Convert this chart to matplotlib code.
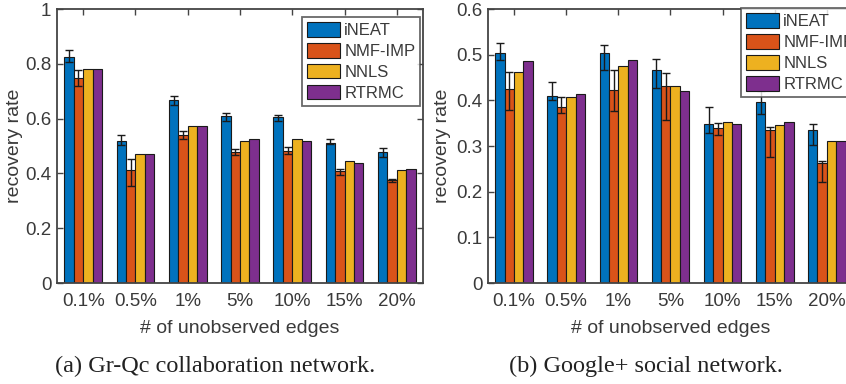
import numpy as np
import matplotlib
matplotlib.use('Agg')
import matplotlib.pyplot as plt

# x categories: fraction of unobserved edges
categories = ['0.1%', '0.5%', '1%', '5%', '10%', '15%', '20%']
methods = ['iNEAT', 'NMF-IMP', 'NNLS', 'RTRMC']
colors = ['#0072BD', '#D95319', '#EDB120', '#7E2F8E']

# (a) Gr-Qc collaboration network
grqc_ineat = [0.825, 0.520, 0.669, 0.611, 0.606, 0.512, 0.479]
grqc_ineat_hi = [0.850, 0.542, 0.683, 0.621, 0.615, 0.526, 0.492]
grqc_ineat_lo = [0.805, 0.505, 0.650, 0.591, 0.593, 0.507, 0.460]
grqc_nmf = [0.747, 0.413, 0.540, 0.477, 0.482, 0.407, 0.375]
grqc_nmf_hi = [0.777, 0.452, 0.555, 0.488, 0.497, 0.415, 0.381]
grqc_nmf_lo = [0.719, 0.354, 0.524, 0.469, 0.471, 0.396, 0.370]
grqc_nnls = [0.780, 0.471, 0.572, 0.519, 0.525, 0.447, 0.414]
grqc_rtrmc = [0.780, 0.471, 0.572, 0.524, 0.520, 0.438, 0.415]

# (b) Google+ social network
gplus_ineat = [0.504, 0.409, 0.503, 0.466, 0.348, 0.396, 0.335]
gplus_ineat_hi = [0.525, 0.441, 0.522, 0.491, 0.386, 0.421, 0.348]
gplus_ineat_lo = [0.488, 0.401, 0.467, 0.427, 0.329, 0.370, 0.302]
gplus_nmf = [0.424, 0.385, 0.423, 0.431, 0.340, 0.334, 0.262]
gplus_nmf_hi = [0.463, 0.408, 0.467, 0.459, 0.351, 0.342, 0.268]
gplus_nmf_lo = [0.379, 0.372, 0.376, 0.356, 0.324, 0.277, 0.222]
gplus_nnls = [0.462, 0.408, 0.475, 0.432, 0.353, 0.346, 0.310]
gplus_rtrmc = [0.487, 0.414, 0.489, 0.421, 0.348, 0.353, 0.312]

text_col = '#3a3a3a'
axis_col = '#444444'
plt.rcParams['font.family'] = ['Liberation Sans', 'DejaVu Sans']


def draw_panel(ax, series, errs, ymax, yticks, yticklabels):
    x = np.arange(1, len(categories) + 1)
    width = 0.18
    for i, (vals, name) in enumerate(zip(series, methods)):
        pos = x + (i - 1.5) * width
        ax.bar(pos, vals, width, color=colors[i], edgecolor='#1a1a1a',
               linewidth=0.8, label=name, zorder=2)
        if errs[i] is not None:
            lo, hi = errs[i]
            v = np.array(vals)
            yerr = [v - np.array(lo), np.array(hi) - v]
            ax.errorbar(pos, v, yerr=yerr, fmt='none', ecolor='#1a1a1a',
                        elinewidth=1.0, capsize=2.6, capthick=1.0, zorder=3)
    ax.set_xlim(0.5, len(categories) + 0.5)
    ax.set_ylim(0, ymax)
    ax.set_xticks(x)
    ax.set_xticklabels(categories)
    ax.set_yticks(yticks)
    ax.set_yticklabels(yticklabels)
    ax.tick_params(direction='in', length=4, width=1.0, colors=axis_col,
                   labelcolor=text_col, labelsize=13.5, top=True, right=True)
    ax.tick_params(axis='x', pad=7)
    ax.tick_params(axis='y', pad=4)
    for s in ax.spines.values():
        s.set_color(axis_col)
        s.set_linewidth(1.3)
    ax.set_xlabel('# of unobserved edges', fontsize=14, color=text_col)
    ax.set_ylabel('recovery rate', fontsize=14, color=text_col)


fig = plt.figure(figsize=(8.46, 3.84), dpi=100)
ax1 = fig.add_axes([0.0674, 0.263, 0.4326, 0.7135])
ax2 = fig.add_axes([0.5768, 0.263, 0.4314, 0.7135])

draw_panel(ax1, [grqc_ineat, grqc_nmf, grqc_nnls, grqc_rtrmc],
           [(grqc_ineat_lo, grqc_ineat_hi), (grqc_nmf_lo, grqc_nmf_hi), None, None],
           1.0, [0, 0.2, 0.4, 0.6, 0.8, 1.0], ['0', '0.2', '0.4', '0.6', '0.8', '1'])
draw_panel(ax2, [gplus_ineat, gplus_nmf, gplus_nnls, gplus_rtrmc],
           [(gplus_ineat_lo, gplus_ineat_hi), (gplus_nmf_lo, gplus_nmf_hi), None, None],
           0.6, [0, 0.1, 0.2, 0.3, 0.4, 0.5, 0.6],
           ['0', '0.1', '0.2', '0.3', '0.4', '0.5', '0.6'])

ax1.yaxis.set_label_coords(-0.092, 0.5)
ax2.yaxis.set_label_coords(-0.10, 0.5)
ax1.xaxis.set_label_coords(0.5, -0.135)
ax2.xaxis.set_label_coords(0.5, -0.135)

leg_kw = dict(fontsize=12, frameon=True, fancybox=False, borderaxespad=0,
              handlelength=2.0, handleheight=0.95, handletextpad=0.25,
              labelspacing=0.3, borderpad=0.3, bbox_transform=fig.transFigure)
for ax, anchor in [(ax1, (0.3566, 0.955)), (ax2, (0.8755, 0.978))]:
    leg = ax.legend(loc='upper left', bbox_to_anchor=anchor, **leg_kw)
    leg.get_frame().set_edgecolor(axis_col)
    leg.get_frame().set_linewidth(1.3)
    for t in leg.get_texts():
        t.set_color(text_col)
    leg.set_zorder(5)

fig.text(0.254, 0.03, '(a) Gr-Qc collaboration network.', ha='center',
         fontsize=17.5, family='Liberation Serif', color='#222222')
fig.text(0.763, 0.03, '(b) Google+ social network.', ha='center',
         fontsize=17.5, family='Liberation Serif', color='#222222')

fig.savefig('out.png', dpi=100)
